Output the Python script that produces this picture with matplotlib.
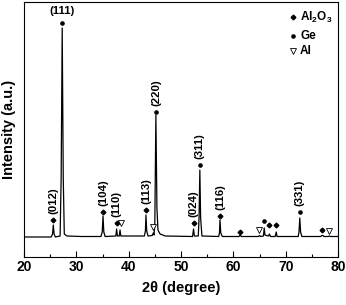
import matplotlib
matplotlib.use("Agg")
import matplotlib.pyplot as plt
from matplotlib.ticker import MultipleLocator

plt.rcParams['font.family'] = ['Liberation Sans', 'DejaVu Sans']
plt.rcParams['font.weight'] = 'bold'
plt.rcParams['mathtext.default'] = 'regular'

# XRD trace (2theta in degree, intensity a.u. above baseline)
two_theta = [20.0, 25.2, 25.45, 25.6, 25.75, 26.0, 26.9, 27.1, 27.3, 27.5, 27.7, 28.2,
             31.0, 34.7, 34.95, 35.1, 35.25, 35.5, 37.55, 37.7, 37.85, 38.2, 38.35, 38.5,
             43.0, 43.2, 43.3, 43.45, 43.7, 44.5, 44.7, 44.85, 45.0, 45.2, 45.4, 45.6,
             46.0, 47.0, 52.2, 52.4, 52.55, 53.3, 53.45, 53.6, 53.75, 54.0, 57.2, 57.35,
             57.45, 57.6, 57.9, 61.1, 61.3, 61.5, 64.8, 65.0, 65.2, 65.75, 65.9, 66.05,
             66.3, 66.7, 66.9, 67.1, 68.0, 68.2, 68.35, 72.4, 72.55, 72.7, 72.85, 73.1,
             76.7, 76.9, 77.1, 77.3, 78.1, 78.3, 78.5, 80.0]
intensity = [1.0, 1.0, 4, 13, 4, 1.0, 2, 60, 210, 60, 4, 2,
             1.5, 1.5, 6, 22, 6, 1.5, 2, 9, 2, 2, 8, 2,
             2, 7, 23, 7, 2, 2.5, 5, 3, 15, 123, 30, 8,
             4, 2, 1.5, 9, 2, 2, 20, 68, 20, 2, 1.5, 5,
             18, 5, 1.5, 1.5, 3, 1.5, 1.5, 2.5, 1.5, 2, 10, 3,
             2.5, 2, 4, 1.5, 1.5, 6, 1.5, 1.5, 6, 20, 6, 1.5,
             1.5, 2.5, 2.5, 1.5, 1.5, 2, 1.5, 1.5]

# phase markers
al2o3_x = [25.6, 35.1, 37.7, 43.3, 52.4, 57.45, 61.3, 66.9, 68.2, 77.0]
al2o3_y = [18, 26, 15, 28, 15, 22, 6, 13, 13, 8]
ge_x = [27.3, 45.2, 53.6, 65.9, 72.7]
ge_y = [215, 126, 73, 17, 26]
al_x = [38.5, 44.6, 64.9, 78.3]
al_y = [15, 11, 8, 7]

# peak labels (hkl) and their anchor positions
hkl_labels = ['(012)', '(104)', '(110)', '(113)', '(220)', '(024)', '(311)', '(116)', '(331)']
hkl_x = [25.6, 35.1, 37.7, 43.3, 45.2, 52.4, 53.6, 57.45, 72.7]
hkl_y = [18, 26, 15, 28, 126, 15, 73, 22, 26]
top_label = '(111)'
top_label_pos = (27.3, 227)

legend_labels = ['Al$_{2}$O$_{3}$', 'Ge', 'Al']

fig = plt.figure(figsize=(3.46, 3.05), dpi=100)
ax = fig.add_axes([24/346, 48/305, 314/346, 255/305])

ax.plot(two_theta, intensity, color='black', lw=0.9)
ax.plot(al2o3_x, al2o3_y, linestyle='none', marker='D', ms=2.4, color='black')
ax.plot(ge_x, ge_y, linestyle='none', marker='o', ms=2.3, color='black')
ax.plot(al_x, al_y, linestyle='none', marker='v', ms=5, mfc='white', mec='black', mew=0.6)

for lab, x, y in zip(hkl_labels, hkl_x, hkl_y):
    ax.annotate(lab, (x, y), xytext=(0, 4), textcoords='offset points',
                rotation=90, ha='center', va='bottom', fontsize=8.2, fontweight='bold')
ax.text(top_label_pos[0], top_label_pos[1], top_label, ha='center', va='center',
        fontsize=8.2, fontweight='bold')

# legend (manual)
leg_y = [0.941, 0.867, 0.808]
mk = [dict(marker='D', ms=2.4, color='black'),
      dict(marker='o', ms=2.3, color='black'),
      dict(marker='v', ms=5, mfc='white', mec='black', mew=0.6)]
for lab, yy, m in zip(legend_labels, leg_y, mk):
    ax.plot([0.857], [yy], transform=ax.transAxes, linestyle='none', clip_on=False, **m)
    ax.text(0.879, yy, lab, transform=ax.transAxes, ha='left', va='center',
            fontsize=8.5, fontweight='bold')

ax.set_xlim(20, 80)
ax.set_ylim(-19, 236)
ax.xaxis.set_major_locator(MultipleLocator(10))
ax.xaxis.set_minor_locator(MultipleLocator(5))
ax.tick_params(axis='x', which='major', direction='in', length=4, width=0.8, pad=2, labelsize=10)
ax.tick_params(axis='x', which='minor', direction='in', length=2, width=0.8)
ax.set_yticks([])
for s in ax.spines.values():
    s.set_linewidth(0.8)

ax.set_xlabel('2θ (degree)', fontsize=10.5, fontweight='bold', labelpad=5)
ax.set_ylabel('Intensity (a.u.)', fontsize=10.5, fontweight='bold', labelpad=6)

fig.savefig('out.png', dpi=100)
